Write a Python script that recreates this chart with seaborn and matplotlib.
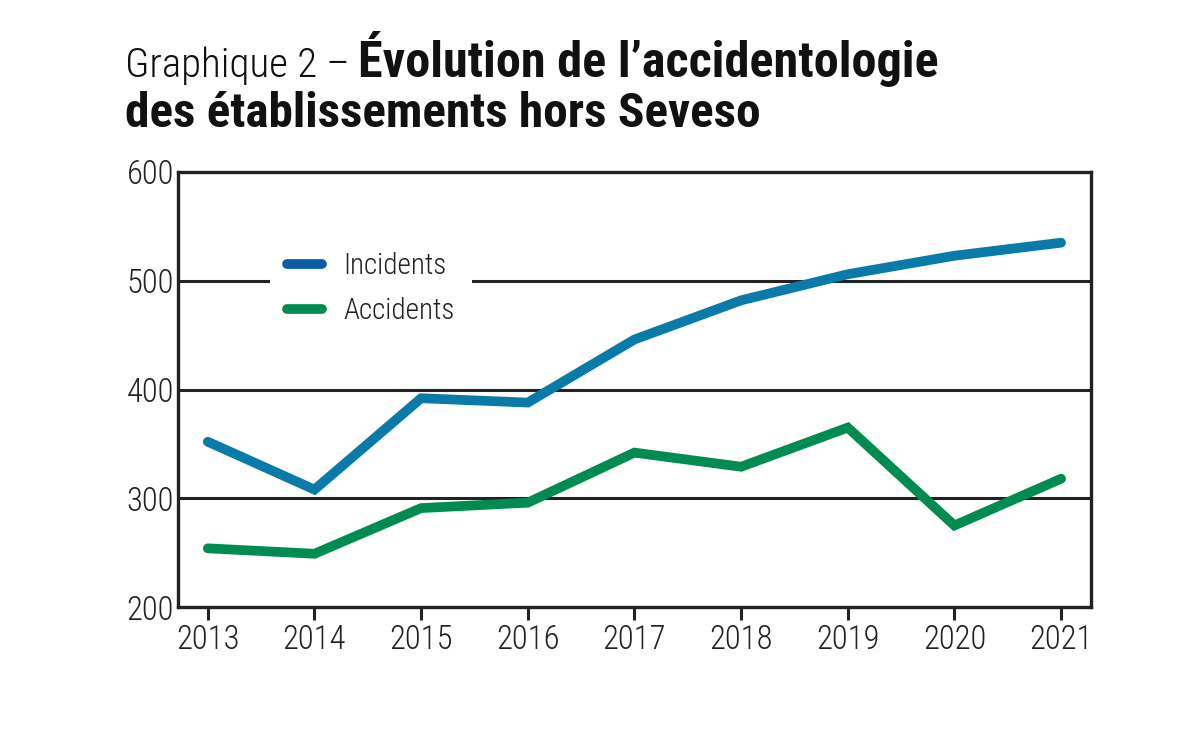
import matplotlib
matplotlib.use('Agg')
import matplotlib.pyplot as plt
from matplotlib import font_manager
from matplotlib.lines import Line2D
import seaborn as sns
import pandas as pd

# Data
years = [2013, 2014, 2015, 2016, 2017, 2018, 2019, 2020, 2021]
incidents = [352, 308, 392, 388, 446, 482, 506, 523, 535]
accidents = [254, 249, 291, 296, 342, 329, 365, 275, 318]
y_ticks = [200, 300, 400, 500, 600]

series_names = ['Incidents', 'Accidents']
colors = {'Incidents': '#0a7ba8', 'Accidents': '#008c50'}
legend_colors = {'Incidents': '#0a5ca6', 'Accidents': '#008c50'}

df = pd.DataFrame({
    'year': years * 2,
    'value': incidents + accidents,
    'serie': ['Incidents'] * len(years) + ['Accidents'] * len(years),
})

sns.set_theme(style='white')

# pick a condensed font if one is available
available = {f.name for f in font_manager.fontManager.ttflist}
font = 'DejaVu Sans'
for cand in ['Roboto Condensed', 'Liberation Sans Narrow', 'Open Sans Condensed', 'Noto Sans Condensed']:
    if cand in available:
        font = cand
        break
plt.rcParams['font.family'] = [font, 'DejaVu Sans']
plt.rcParams['font.weight'] = 'light'

fig = plt.figure(figsize=(12, 7.56), dpi=100)
ax = fig.add_axes([0.1483, 0.197, 0.7608, 0.5755])

sns.lineplot(data=df, x='year', y='value', hue='serie', hue_order=series_names,
             palette=colors, linewidth=7, ax=ax, legend=False,
             solid_capstyle='round', solid_joinstyle='miter')

ax.set_xlim(years[0] - 0.28, years[-1] + 0.28)
ax.set_ylim(y_ticks[0], y_ticks[-1])
ax.set_xticks(years)
ax.set_yticks(y_ticks)
ax.set_xlabel('')
ax.set_ylabel('')

for y in y_ticks[1:-1]:
    ax.axhline(y, color='#222222', linewidth=2.2, zorder=0)

for s in ax.spines.values():
    s.set_color('#222222')
    s.set_linewidth(2.4)

ax.tick_params(axis='x', direction='out', length=9, width=2.2, color='#222222',
               labelsize=23.5, labelcolor='#222222', pad=3, bottom=True)
ax.tick_params(axis='y', length=0, labelsize=23.5, labelcolor='#222222', pad=3)
for lab in ax.get_xticklabels() + ax.get_yticklabels():
    lab.set_fontweight('light')

handles = [Line2D([0], [0], color=legend_colors[n], linewidth=7, solid_capstyle='round')
           for n in series_names]
leg = ax.legend(handles, series_names, loc='upper left', bbox_to_anchor=(0.1008, 0.8565),
                frameon=True, facecolor='white', edgecolor='none', fancybox=False,
                prop={'size': 21, 'weight': 'light'}, handlelength=1.2, handletextpad=0.71,
                labelspacing=0.58, borderpad=0.6, borderaxespad=0)
leg.get_frame().set_alpha(1)
for t in leg.get_texts():
    t.set_color('#222222')

# title: regular part then bold part
t1 = fig.text(0.104, 0.898, 'Graphique 2 –', fontsize=29.5, fontweight='light',
              color='#111111', ha='left', va='baseline')
fig.canvas.draw()
bb = t1.get_window_extent()
x2 = (bb.x1 + 9) / fig.bbox.width
fig.text(x2, 0.898, 'Évolution de l’accidentologie', fontsize=36.2, fontweight='bold',
         color='#111111', ha='left', va='baseline')
fig.text(0.104, 0.832, 'des établissements hors Seveso', fontsize=35.5, fontweight='bold',
         color='#111111', ha='left', va='baseline')

fig.savefig('out.png', dpi=100, facecolor='white')
